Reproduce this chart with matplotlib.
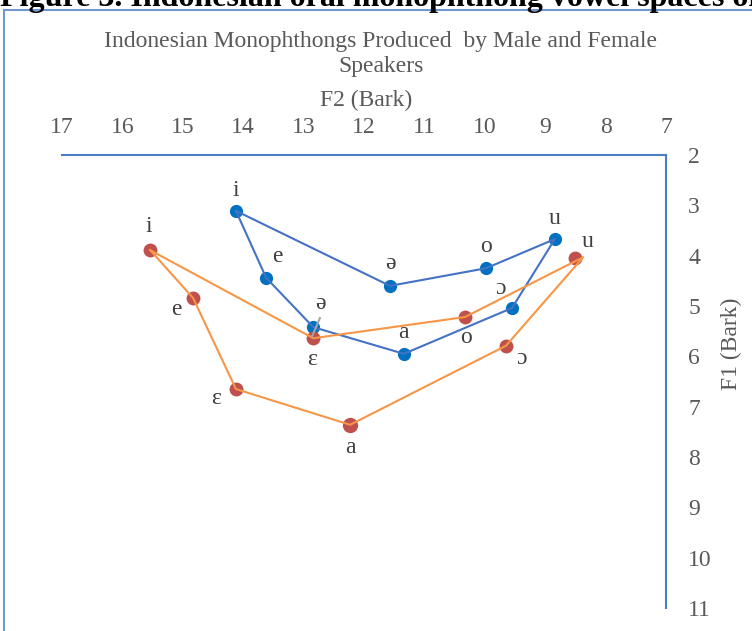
import matplotlib.pyplot as plt
from matplotlib.lines import Line2D

plt.rcParams['font.family'] = ['Liberation Serif', 'DejaVu Serif']

# male speakers (blue)
male_labels = ['i', 'e', 'ə', 'ə', 'a', 'o', 'ɔ', 'u']
male_f2 = [14.12, 13.62, 11.57, 12.84, 11.34, 9.98, 9.55, 8.84]
male_f1 = [3.11, 4.44, 4.60, 5.42, 5.95, 4.25, 5.04, 3.67]

# female speakers (red)
female_labels = ['i', 'e', 'ɛ', 'a', 'ɛ', 'o', 'ɔ', 'u']
female_f2 = [15.54, 14.83, 14.12, 12.23, 12.84, 10.33, 9.65, 8.51]
female_f1 = [3.89, 4.84, 6.65, 7.36, 5.64, 5.22, 5.79, 4.05]

# vowel space outlines
male_line_f2 = [14.12, 11.57, 9.98, 8.84, 9.55, 11.34, 12.84, 13.62, 14.12]
male_line_f1 = [3.11, 4.60, 4.25, 3.67, 5.04, 5.95, 5.42, 4.44, 3.11]
female_line_f2 = [15.54, 12.84, 10.33, 8.37, 9.65, 12.23, 14.12, 14.83, 15.54]
female_line_f1 = [3.89, 5.64, 5.22, 4.03, 5.79, 7.36, 6.65, 4.84, 3.89]
link_f2 = [12.86, 12.73]
link_f1 = [5.60, 5.24]

x_ticks = list(range(7, 18))
y_ticks = list(range(2, 12))

# label offsets in points (dx, dy)
male_off = [(0, 15), (8, 15), (0, 16), (5, 17), (0, 15), (0, 16), (-8, 14), (0, 15)]
female_off = [(-1, 17), (-12, -8), (-14, -7), (0, -16), (-1, -15), (1, -15), (11, -9), (9, 12)]

fig = plt.figure(figsize=(7.52, 6.31), dpi=100)
ax = fig.add_axes([62 / 752, 1 - 608 / 631, 604 / 752, 453 / 631])

ax.plot(male_f2, male_f1, 'o', color='#0070C0', ms=9.5, mec='none', zorder=2)
ax.plot(female_f2[:3], female_f1[:3], 'o', color='#C0504D', ms=10, mec='none', zorder=2)
ax.plot(female_f2[3], female_f1[3], 'o', color='#C0504D', ms=11, mec='none', zorder=2)
ax.plot(female_f2[4:], female_f1[4:], 'o', color='#C0504D', ms=10, mec='none', zorder=2)

ax.plot(male_line_f2, male_line_f1, color='#4472C4', lw=1.5, zorder=3)
ax.plot(female_line_f2, female_line_f1, color='#F79646', lw=1.5, zorder=3)
ax.plot(link_f2, link_f1, color='#A5A5A5', lw=1.5, zorder=4)

for lab, x, y, off in zip(male_labels, male_f2, male_f1, male_off):
    ax.annotate(lab, (x, y), xytext=off, textcoords='offset points',
                ha='center', va='center', fontsize=17, color='#404040')
for lab, x, y, off in zip(female_labels, female_f2, female_f1, female_off):
    ax.annotate(lab, (x, y), xytext=off, textcoords='offset points',
                ha='center', va='center', fontsize=17, color='#404040')

ax.set_xlim(17, 7)
ax.set_ylim(11, 2)
ax.set_xticks(x_ticks)
ax.set_yticks(y_ticks)
ax.xaxis.tick_top()
ax.yaxis.tick_right()
ax.tick_params(length=0, labelsize=17, labelcolor='#595959')
ax.tick_params(axis='x', pad=12)
ax.tick_params(axis='y', pad=16)
for lbl in ax.get_yticklabels():
    lbl.set_horizontalalignment('left')
for side in ['left', 'bottom']:
    ax.spines[side].set_visible(False)
for side in ['top', 'right']:
    ax.spines[side].set_color('#4A7EC4')
    ax.spines[side].set_linewidth(1.5)

fig.text(381 / 752, 1 - 54 / 631, 'Indonesian Monophthongs Produced  by Male and Female\nSpeakers',
         ha='center', va='center', fontsize=17, color='#595959', linespacing=1.25)
fig.text(366 / 752, 1 - 100 / 631, 'F2 (Bark)', ha='center', va='center',
         fontsize=17, color='#595959')
fig.text(731 / 752, 1 - 344 / 631, 'F1 (Bark)', ha='center', va='center',
         rotation=90, fontsize=17, color='#595959')

# caption above the chart frame
fig.text(0, 1 - 6 / 631, 'Figure 3. Indonesian oral monophthong vowel spaces of Indonesian',
         ha='left', va='baseline', fontsize=23, fontweight='bold', color='black')

# chart frame
fig.add_artist(Line2D([4 / 752, 4 / 752], [0, 1 - 10 / 631], color='#6E98D2', lw=1.5))
fig.add_artist(Line2D([4 / 752, 1], [1 - 10 / 631, 1 - 10 / 631], color='#6E98D2', lw=1.5))

fig.savefig('out.png', dpi=100)
